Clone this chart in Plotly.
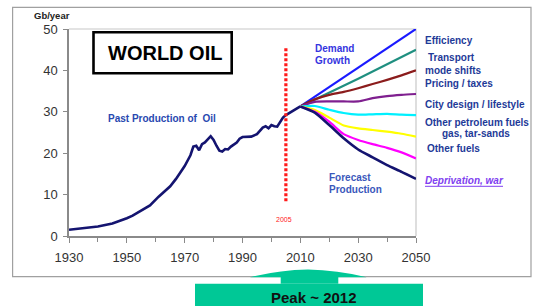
import plotly.graph_objects as go

# ---------------- data ----------------
hist_years = [1930, 1935, 1940, 1945, 1948, 1950, 1952, 1955, 1958, 1961, 1963, 1965,
              1967, 1970, 1972, 1973, 1974, 1975, 1976, 1977, 1979, 1980, 1981, 1982,
              1983, 1984, 1985, 1986, 1988, 1989, 1990, 1993, 1995, 1997, 1998, 1999,
              2000, 2001, 2002, 2003, 2004, 2005, 2007, 2010]
hist_values = [1.5, 1.9, 2.3, 3.0, 3.7, 4.3, 4.9, 6.1, 7.4, 9.5, 10.7, 12.0,
               13.8, 16.9, 19.5, 21.6, 21.8, 20.7, 22.2, 22.6, 24.1, 23.2, 21.8, 20.6,
               20.4, 21.0, 20.9, 21.6, 22.6, 23.5, 23.9, 24.0, 24.6, 26.2, 26.5, 26.0,
               26.8, 26.5, 26.4, 27.4, 28.6, 29.2, 30.0, 31.3]

scen_years = [2010, 2015, 2020, 2025, 2030, 2035, 2040, 2045, 2050]
efficiency = [31.3, None, None, None, None, None, None, None, 50.0]
transport = [31.3, None, None, None, 38.0, None, None, None, 45.0]
pricing = [31.3, 33.0, 34.1, 34.8, 35.7, 36.7, 37.7, 38.8, 40.0]
city = [31.3, 32.4, 32.5, 32.5, 32.5, 33.3, 33.8, 34.1, 34.3]
other_petroleum = [31.3, 31.4, 30.5, 29.7, 29.3, 29.4, 29.5, 29.3, 29.2]
yellow_vals = [31.3, 30.4, 28.6, 26.7, 26.0, 25.6, 25.2, 24.7, 24.0]
other_fuels = [31.3, 30.0, 27.6, 24.6, 23.2, 22.2, 21.3, 20.2, 18.75]
forecast = [31.3, 29.8, 26.8, 23.6, 20.9, 19.0, 17.1, 15.5, 13.8]

marker_year = 2005
marker_range = [8.4, 45.5]

x_ticks = [1930, 1950, 1970, 1990, 2010, 2030, 2050]
y_ticks = [0, 10, 20, 30, 40, 50]

FONT = "Liberation Sans, Arial, sans-serif"

# ---------------- figure ----------------
W, H = 533, 306
L, R, T, B = 69, 117, 29, 70
PW, PH = W - L - R, H - T - B


def px(x):
    return (x - L) / PW


def py(y):
    return (H - B - y) / PH


fig = go.Figure()

scen = [
    (efficiency, "#1a1aff"),
    (transport, "#1f8f80"),
    (pricing, "#8b1c1c"),
    (city, "#7f1f8f"),
    (other_petroleum, "#00f0ff"),
    (yellow_vals, "#ffff00"),
    (other_fuels, "#ff00ff"),
    (forecast, "#141470"),
]
for vals, col in scen:
    xs = [y for y, v in zip(scen_years, vals) if v is not None]
    ys = [v for v in vals if v is not None]
    fig.add_trace(go.Scatter(x=xs, y=ys, mode="lines",
                             line=dict(color=col, width=2.2 if col != "#141470" else 2.6,
                                       shape="spline", smoothing=0.6),
                             hoverinfo="skip", showlegend=False))

fig.add_trace(go.Scatter(x=hist_years, y=hist_values, mode="lines",
                         line=dict(color="#141470", width=2.6),
                         hoverinfo="skip", showlegend=False))

fig.add_trace(go.Scatter(x=[marker_year, marker_year], y=marker_range, mode="lines",
                         line=dict(color="#ff1a1a", width=3.2, dash="3px,2px"),
                         hoverinfo="skip", showlegend=False))

shapes = []
# outer frame
shapes.append(dict(type="rect", xref="paper", yref="paper",
                   x0=px(12.6), x1=px(531), y0=py(276.7), y1=py(7.3),
                   line=dict(color="#a0a0a0", width=1.2), layer="below"))
# plot-area top/right border
shapes.append(dict(type="path", xref="paper", yref="paper",
                   path=f"M {px(L)} {py(T)} L {px(W-R)} {py(T)} L {px(W-R)} {py(H-B)}",
                   line=dict(color="#c8c8c8", width=1.2), layer="below"))
# WORLD OIL box
shapes.append(dict(type="rect", xref="paper", yref="paper",
                   x0=px(93.5), x1=px(231.7), y0=py(73.3), y1=py(32.3),
                   line=dict(color="#000000", width=2.6), fillcolor="white"))
# green box
GREEN = "#00c896"
shapes.append(dict(type="rect", xref="paper", yref="paper",
                   x0=px(195), x1=px(423), y0=py(312), y1=py(283.7),
                   line=dict(width=0), fillcolor=GREEN))
# arrow
arrow = (f"M {px(280.7)} {py(283.7)} L {px(280.7)} {py(277.2)} L {px(250)} {py(277.2)} "
         f"Q {px(279)} {py(270)} {px(308)} {py(269.5)} "
         f"Q {px(337)} {py(270)} {px(366.7)} {py(277.2)} "
         f"L {px(338.3)} {py(277.2)} L {px(338.3)} {py(283.7)} Z")
shapes.append(dict(type="path", xref="paper", yref="paper", path=arrow,
                   line=dict(width=0), fillcolor=GREEN))
# underline for "Deprivation, war"
shapes.append(dict(type="line", xref="paper", yref="paper",
                   x0=px(425), x1=px(503), y0=py(186.3), y1=py(186.3),
                   line=dict(color="#8040f0", width=1)))

ann = []


def text(x, y, s, color, size=10, bold=True, xanchor="left", italic=False):
    t = s
    if bold:
        t = f"<b>{t}</b>"
    if italic:
        t = f"<i>{t}</i>"
    ann.append(dict(x=px(x), y=py(y), xref="paper", yref="paper", text=t,
                    showarrow=False, xanchor=xanchor, yanchor="middle",
                    font=dict(family=FONT, size=size, color=color),
                    borderpad=0, align="left"))


LAB = "#1e3a98"
text(424, 40.7, "Efficiency", LAB)
text(426.7, 57.3, "Transport", LAB)
text(424, 70, "mode shifts", LAB)
text(424, 83.3, "Pricing / taxes", LAB)
text(424, 105, "City design / lifestyle", LAB)
text(424, 122.6, "Other petroleum fuels", LAB)
text(475.5, 133, "gas, tar-sands", LAB, xanchor="center")
text(426, 148.3, "Other fuels", LAB)
text(424, 180.7, "Deprivation, war", "#8040f0", italic=True)

text(314, 48.3, "Demand", "#3535e0")
text(314, 60.3, "Growth", "#3535e0")
text(328, 177.3, "Forecast", "#3a58bb")
text(328, 189, "Production", "#3a58bb")
text(106.5, 118.3, "Past Production of  Oil", "#2848b0")
text(284.3, 219.3, "2005", "#ff2020", size=7, bold=False, xanchor="center")
text(33, 16, "Gb/year", "#222222", size=9.5)
text(165, 53.5, "WORLD OIL", "#000000", size=20, xanchor="center")
text(314, 297, "Peak ~ 2012", "#111111", size=15, xanchor="center")

fig.update_layout(
    width=W, height=H,
    margin=dict(l=L, r=R, t=T, b=B, pad=0),
    paper_bgcolor="white", plot_bgcolor="white",
    shapes=shapes, annotations=ann, showlegend=False,
    font=dict(family=FONT),
    xaxis=dict(range=[1930, 2050], tickvals=x_ticks, ticktext=[str(v) for v in x_ticks],
               showgrid=False, zeroline=False, showline=True, linecolor="#8a8a8a",
               linewidth=1.5, ticks="outside", ticklen=5, tickcolor="#8a8a8a",
               tickfont=dict(family=FONT, size=13, color="#333333"),
               ticklabelstandoff=4,
               minor=dict(dtick=10, tick0=1930, ticks="outside", ticklen=4,
                          tickcolor="#8a8a8a", showgrid=False),
               fixedrange=True),
    yaxis=dict(range=[0, 50], tickvals=y_ticks, showgrid=False, zeroline=False,
               showline=True, linecolor="#8a8a8a", linewidth=1.5,
               ticks="outside", ticklen=4, tickcolor="#8a8a8a",
               tickfont=dict(family=FONT, size=13, color="#333333"),
               ticklabelstandoff=3, fixedrange=True),
)

fig.write_html("out.html", config={"displayModeBar": False},
               post_script="document.body.style.margin='0';document.body.style.overflow='hidden';")
